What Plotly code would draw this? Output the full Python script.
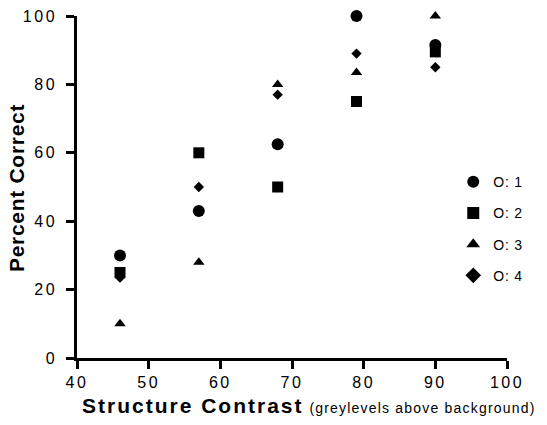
import plotly.graph_objects as go

contrast = [46, 57, 68, 79, 90]
obs_names = ["O: 1", "O: 2", "O: 3", "O: 4"]
o1 = [30, 43, 62.5, 100, 91.5]
o2 = [25, 60, 50, 75, 89.5]
o3 = [10, 28, 80, 83.5, 100]
o4 = [23.5, 50, 77, 89, 85]
series = [o1, o2, o3, o4]
symbols = ["circle", "square", "triangle-up", "diamond"]
sizes = [12, 11, 10, 8]

x_ticks = [40, 50, 60, 70, 80, 90, 100]
y_ticks = [0, 20, 40, 60, 80, 100]
x_title = "Structure Contrast"
x_subtitle = "(greylevels above background)"
y_title = "Percent Correct"

FONT = "Liberation Sans, Arial, sans-serif"


def spaced(t, px):
    return "<span style='letter-spacing:%spx'>%s</span>" % (px, t)


fig = go.Figure()
for name, vals, sym, sz in zip(obs_names, series, symbols, sizes):
    fig.add_trace(go.Scatter(
        x=contrast, y=vals, mode="markers", name=spaced(name, 0.8), legendgroup=name,
        marker=dict(symbol=sym, size=sz, color="black", line=dict(width=0)),
        cliponaxis=False, hoverinfo="skip",
    ))

axis_common = dict(
    showline=True, linecolor="black", linewidth=2.5,
    ticks="outside", tickcolor="black", tickwidth=2.5, ticklen=8,
    showgrid=False, zeroline=False, automargin=False,
)

fig.update_layout(
    width=547, height=425,
    margin=dict(l=77, r=40, t=16, b=67),
    paper_bgcolor="white", plot_bgcolor="white",
    font=dict(family=FONT, color="black"),
    xaxis=dict(range=[40, 100], tickvals=x_ticks,
               ticktext=[spaced(t, 2.5) for t in x_ticks],
               tickfont=dict(family=FONT, size=16, color="black"),
               **axis_common),
    yaxis=dict(range=[0, 100], tickvals=y_ticks,
               ticktext=[spaced(t, 2.5) for t in y_ticks],
               tickfont=dict(family=FONT, size=16, color="black"),
               ticklabelstandoff=6,
               **axis_common),
    showlegend=True,
    legend=dict(x=0.875, y=0.561, xanchor="left", yanchor="top",
                font=dict(size=14, family=FONT), tracegroupgap=10,
                bgcolor="rgba(0,0,0,0)", itemsizing="constant"),
)

fig.add_annotation(
    xref="paper", yref="paper", x=0.54, y=0, yshift=-47,
    xanchor="center", yanchor="middle", showarrow=False, borderpad=0,
    text="<b>" + spaced(x_title, 2) + "</b> "
         + "<span style='font-size:14px;letter-spacing:1.2px'>" + x_subtitle + "</span>",
    font=dict(size=21, family=FONT, color="black"),
)
fig.add_annotation(
    xref="paper", yref="paper", x=-0.142, y=0.497,
    xanchor="center", yanchor="middle", showarrow=False, textangle=-90,
    text="<b>" + spaced(y_title, 0.7) + "</b>",
    font=dict(size=21, family=FONT, color="black"),
)

fig.write_html("out.html", config={"displayModeBar": False},
               post_script="document.body.style.margin='0px';")
